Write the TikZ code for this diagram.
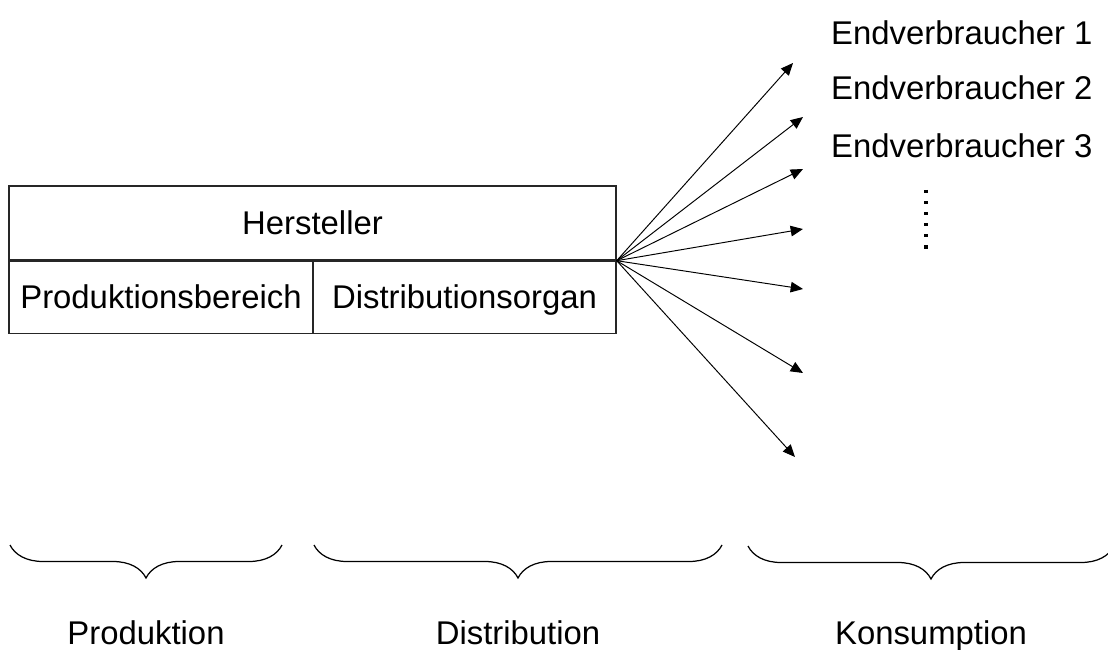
\documentclass[tikz,border=0pt]{standalone}
\usepackage{fontspec}
\setmainfont{Liberation Sans}
\usetikzlibrary{arrows.meta,positioning,decorations.pathreplacing}

\begin{document}
\begin{tikzpicture}[
    cell/.style={rectangle, draw=black!85, line width=0.8pt, inner sep=0pt,
      text height=17pt, text depth=4pt, font=\fontsize{18.7}{22}\selectfont},
    flow/.style={-{Triangle[length=7pt,width=6pt]}, line width=0.55pt},
    lbl/.style={text height=17pt, text depth=4pt, font=\fontsize{18.7}{22}\selectfont},
    phase/.style={decorate, decoration={brace, mirror, amplitude=0.66cm}, line width=0.7pt}
  ]
    \useasboundingbox (0,0) rectangle (22.16,12.98);

    % Hersteller box
    \node[cell, minimum width=12.14cm, minimum height=1.48cm] (herst) at (6.25,8.52) {Hersteller};
    \node[cell, minimum width=6.08cm, minimum height=1.44cm, anchor=north west] (prod) at (herst.south west) {Produktionsbereich};
    \node[cell, minimum width=6.06cm, minimum height=1.44cm, anchor=north east] (dist) at (herst.south east) {Distributionsorgan};

    % Arrow ends
    \coordinate (e1) at (15.86,11.72);
    \coordinate (e2) at (16.06,10.64);
    \coordinate (e3) at (16.06,9.60);
    \coordinate (e4) at (16.06,8.40);
    \coordinate (e5) at (16.06,7.20);
    \coordinate (e6) at (16.06,5.52);
    \coordinate (e7) at (15.90,3.84);
    \foreach \e in {e1,e2,e3,e4,e5,e6,e7}
      \draw[flow] (herst.south east) -- (\e);

    % Endverbraucher
    \node[lbl, anchor=west] (ev1) at (16.50,12.32) {Endverbraucher 1};
    \node[lbl, anchor=west] (ev2) at (16.50,11.22) {Endverbraucher 2};
    \node[lbl, anchor=west] (ev3) at (16.50,10.06) {Endverbraucher 3};
    \draw[line width=1.8pt, dash pattern=on 1.8pt off 4.5pt] (18.52,9.18) -- (18.52,8.0);

    % Braces
    \draw[phase] (0.2,2.08) -- (5.64,2.08);
    \draw[phase] (6.28,2.08) -- (14.44,2.08);
    \draw[phase] (14.96,2.06) -- (22.28,2.06);

    % Phase labels
    \node[lbl] (produktion) at (2.92,0.32) {Produktion};
    \node[lbl] (distribution) at (10.36,0.32) {Distribution};
    \node[lbl] (konsumption) at (18.62,0.32) {Konsumption};
  \end{tikzpicture}
\end{document}
